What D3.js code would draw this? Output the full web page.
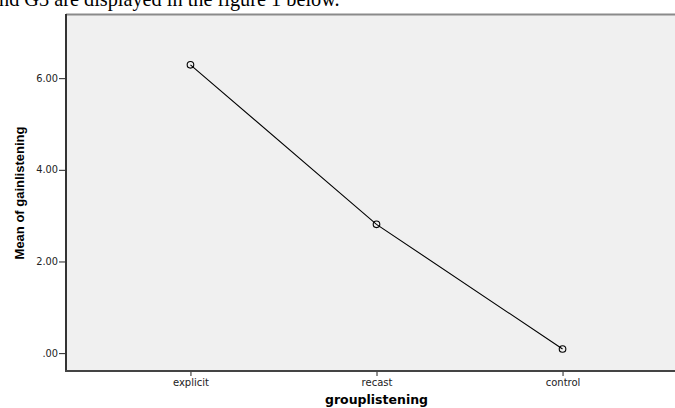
<!DOCTYPE html>
<html>
<head>
<meta charset="utf-8">
<script src="https://cdn.jsdelivr.net/npm/d3@7"></script>
<style>
  html, body { margin: 0; padding: 0; background: #ffffff; overflow: hidden; }
  svg { display: block; overflow: hidden; }
</style>
</head>
<body>
<svg id="chart" width="675" height="408"></svg>
<script>
// Group means of the listening gain score
const groups = ["explicit", "recast", "control"];
const meanGain = [6.29, 2.81, 0.09];
const yTickValues = [0, 2, 4, 6];
const yTickLabels = [".00", "2.00", "4.00", "6.00"];
const captionText = "nd G3 are displayed in the figure 1 below.";

const svg = d3.select("#chart");
const frame = { left: 66, top: 14, bottom: 371, right: 675 };
const tickFont = "'DejaVu Sans', Verdana, sans-serif";

// Running text above the figure
svg.append("text")
  .attr("x", -1)
  .attr("y", 6)
  .attr("font-family", "'Liberation Serif', 'Times New Roman', serif")
  .attr("font-size", 20.3)
  .attr("fill", "#000")
  .text(captionText);

const x = d3.scalePoint()
  .domain(groups)
  .range([frame.left, frame.left + 621])
  .padding(0.669);

const y = d3.scaleLinear()
  .domain([-0.39, 7.4])
  .range([frame.bottom, frame.top]);

// Plot background
svg.append("rect")
  .attr("x", frame.left)
  .attr("y", frame.top)
  .attr("width", frame.right - frame.left)
  .attr("height", frame.bottom - frame.top)
  .attr("fill", "#f0f0f0");

// Top border
svg.append("line")
  .attr("x1", frame.left).attr("x2", frame.right)
  .attr("y1", frame.top + 0.5).attr("y2", frame.top + 0.5)
  .attr("stroke", "#8a8a8a").attr("stroke-width", 2);

// Y axis
const yAxis = d3.axisLeft(y)
  .tickValues(yTickValues)
  .tickFormat((d, i) => yTickLabels[i])
  .tickSize(7)
  .tickPadding(1);
const gy = svg.append("g")
  .attr("transform", `translate(${frame.left},0)`)
  .call(yAxis);
gy.select(".domain").remove();
gy.selectAll(".tick line").attr("stroke", "#222");
gy.selectAll(".tick text")
  .attr("font-family", tickFont)
  .attr("font-size", 9.8)
  .attr("fill", "#222");

// X axis
const xAxis = d3.axisBottom(x).tickSize(5).tickPadding(3);
const gx = svg.append("g")
  .attr("transform", `translate(0,${frame.bottom})`)
  .call(xAxis);
gx.select(".domain").remove();
gx.selectAll(".tick line").attr("stroke", "#222");
gx.selectAll(".tick text")
  .attr("font-family", tickFont)
  .attr("font-size", 10)
  .attr("fill", "#222");

// Frame lines on left and bottom
svg.append("line")
  .attr("x1", frame.left).attr("x2", frame.left)
  .attr("y1", frame.top).attr("y2", frame.bottom + 1)
  .attr("stroke", "#333").attr("stroke-width", 2);
svg.append("line")
  .attr("x1", frame.left - 1).attr("x2", frame.right)
  .attr("y1", frame.bottom).attr("y2", frame.bottom)
  .attr("stroke", "#444").attr("stroke-width", 2);

// Mean line and markers
const pts = groups.map((g, i) => ({ g, v: meanGain[i] }));
svg.append("path")
  .datum(pts)
  .attr("fill", "none")
  .attr("stroke", "#000")
  .attr("stroke-width", 1.1)
  .attr("d", d3.line().x(d => x(d.g)).y(d => y(d.v)));

svg.selectAll("circle.mk")
  .data(pts)
  .join("circle")
  .attr("class", "mk")
  .attr("cx", d => x(d.g))
  .attr("cy", d => y(d.v))
  .attr("r", 3.3)
  .attr("fill", "none")
  .attr("stroke", "#000")
  .attr("stroke-width", 1.1);

// Axis titles
svg.append("text")
  .attr("transform", "translate(24,193) rotate(-90)")
  .attr("text-anchor", "middle")
  .attr("font-family", "'Liberation Sans', Arial, sans-serif")
  .attr("font-weight", "bold")
  .attr("font-size", 13)
  .attr("fill", "#000")
  .text("Mean of gainlistening");

svg.append("text")
  .attr("x", x("recast"))
  .attr("y", 404)
  .attr("text-anchor", "middle")
  .attr("font-family", "'DejaVu Sans', Verdana, sans-serif")
  .attr("font-weight", "bold")
  .attr("font-size", 12.5)
  .attr("fill", "#000")
  .text("grouplistening");
</script>
</body>
</html>
